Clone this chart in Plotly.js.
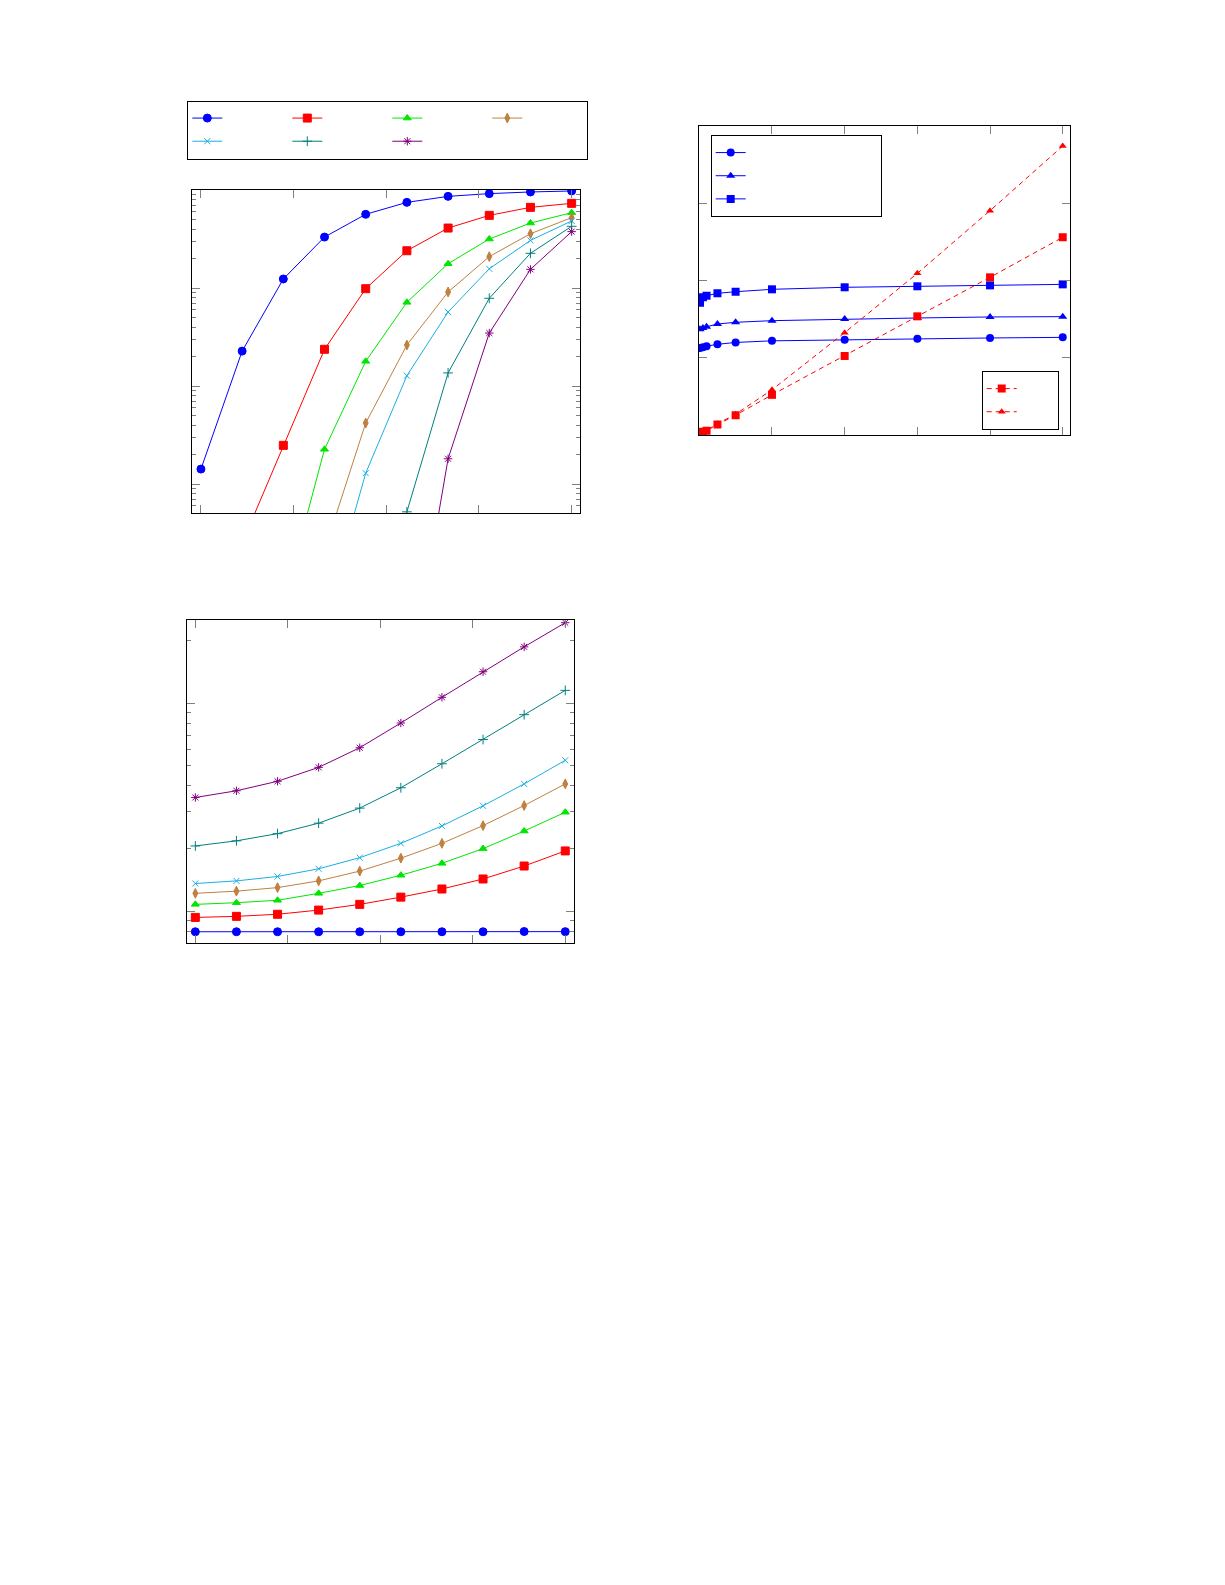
<!DOCTYPE html>
<html>
<head>
<meta charset="utf-8">
<script src="https://cdn.plot.ly/plotly-3.0.1.min.js"></script>
<style>
  html, body { margin: 0; padding: 0; background: #fff; }
  #fig { width: 1225px; height: 1585px; }
</style>
</head>
<body>
<div id="fig"></div>
<script>
// ---- data ----
// top-left and bottom-left panels share the same 10 steps
const steps = [1, 2, 3, 4, 5, 6, 7, 8, 9, 10];

// top-left (log y)
const probBlue   = [0.00142, 0.0227, 0.1236, 0.331, 0.565, 0.748, 0.861, 0.918, 0.955, 0.977];
const probRed    = [null, 0.00025, 0.00248, 0.0237, 0.0984, 0.240, 0.409, 0.551, 0.665, 0.731];
const probGreen  = [null, null, 0.00006, 0.00226, 0.01786, 0.0714, 0.177, 0.316, 0.460, 0.587];
const probBrown  = [null, null, null, 0.00021, 0.00419, 0.0262, 0.0910, 0.209, 0.358, 0.522];
const probCyan   = [null, null, null, 0.000042, 0.00129, 0.01274, 0.0569, 0.157, 0.306, 0.483];
const probTeal   = [null, null, null, null, 0.0000015, 0.00052, 0.0136, 0.0785, 0.226, 0.426];
const probViolet = [null, null, null, null, null, 0.0000064, 0.00181, 0.0347, 0.155, 0.376];

// bottom-left (log y)
const costBlue   = [0.798, 0.798, 0.798, 0.798, 0.798, 0.798, 0.798, 0.798, 0.800, 0.799];
const costRed    = [0.935, 0.946, 0.968, 1.014, 1.08, 1.17, 1.28, 1.43, 1.65, 1.95];
const costGreen  = [1.08, 1.10, 1.13, 1.22, 1.33, 1.49, 1.70, 2.00, 2.43, 2.99];
const costBrown  = [1.22, 1.25, 1.30, 1.40, 1.56, 1.80, 2.12, 2.58, 3.22, 4.09];
const costCyan   = [1.36, 1.40, 1.47, 1.60, 1.81, 2.12, 2.57, 3.21, 4.09, 5.31];
const costTeal   = [2.06, 2.18, 2.36, 2.65, 3.13, 3.92, 5.11, 6.68, 8.79, 11.5];
const costViolet = [3.52, 3.79, 4.21, 4.91, 6.10, 8.02, 10.65, 14.13, 18.6, 24.3];

// top-right (linear)
const loads      = [0.01, 0.05, 0.1, 0.25, 0.5, 1, 2, 3, 4, 5];
const flatCircle = [1.125, 1.135, 1.15, 1.174, 1.198, 1.219, 1.234, 1.247, 1.256, 1.264];
const flatTri    = [1.37, 1.385, 1.40, 1.437, 1.459, 1.480, 1.502, 1.515, 1.528, 1.532];
const flatSquare = [1.713, 1.783, 1.803, 1.834, 1.855, 1.886, 1.912, 1.925, 1.937, 1.950];
const riseSquare = [0.03, 0.042, 0.055, 0.135, 0.257, 0.52, 1.023, 1.536, 2.041, 2.559];
const riseTri    = [0.03, 0.045, 0.06, 0.145, 0.27, 0.585, 1.325, 2.093, 2.904, 3.741];

// ---- styles ----
const W = 1225, H = 1585;
const colBlue = '#0000ff', colRed = '#ff0000', colGreen = '#00e600', colBrown = '#bf8040';
const colCyan = '#1baee4', colTeal = '#008080', colViolet = '#800080';

const series = [
  { y1: probBlue,   y3: costBlue,   color: colBlue,   symbol: 'circle',          size: 8, group: 'a' },
  { y1: probRed,    y3: costRed,    color: colRed,    symbol: 'square',          size: 8, group: 'b' },
  { y1: probGreen,  y3: costGreen,  color: colGreen,  symbol: 'triangle-up',     size: 7, group: 'c' },
  { y1: probBrown,  y3: costBrown,  color: colBrown,  symbol: 'diamond-tall',    size: 7, group: 'd' },
  { y1: probCyan,   y3: costCyan,   color: colCyan,   symbol: 'x-thin-open',     size: 6, group: 'a' },
  { y1: probTeal,   y3: costTeal,   color: colTeal,   symbol: 'cross-thin-open', size: 7, group: 'b' },
  { y1: probViolet, y3: costViolet, color: colViolet, symbol: 'asterisk-open',   size: 7, group: 'c' }
];

const traces = [];
series.forEach(s => {
  const marker = { symbol: s.symbol, size: s.size, color: s.color, line: { color: s.color, width: 1 } };
  traces.push({
    x: steps, y: s.y1, xaxis: 'x', yaxis: 'y', type: 'scatter', mode: 'lines+markers',
    name: '', legend: 'legend', legendgroup: s.group,
    line: { color: s.color, width: 1 }, marker: marker, connectgaps: false
  });
  traces.push({
    x: steps, y: s.y3, xaxis: 'x3', yaxis: 'y3', type: 'scatter', mode: 'lines+markers',
    name: '', showlegend: false,
    line: { color: s.color, width: 1 }, marker: marker
  });
});

const flat = [
  { y: flatCircle, symbol: 'circle', size: 8 },
  { y: flatTri, symbol: 'triangle-up', size: 8 },
  { y: flatSquare, symbol: 'square', size: 8 }
];
flat.forEach(f => {
  traces.push({
    x: loads, y: f.y, xaxis: 'x2', yaxis: 'y2', type: 'scatter', mode: 'lines+markers',
    name: '', legend: 'legend2', legendgroup: 'flat',
    line: { color: colBlue, width: 1 },
    marker: { symbol: f.symbol, size: f.size, color: colBlue }
  });
});
const rise = [
  { y: riseSquare, symbol: 'square', size: 8 },
  { y: riseTri, symbol: 'triangle-up', size: 7 }
];
rise.forEach(r => {
  traces.push({
    x: loads, y: r.y, xaxis: 'x2', yaxis: 'y2', type: 'scatter', mode: 'lines+markers',
    name: '', legend: 'legend3', legendgroup: 'rise',
    line: { color: colRed, width: 1, dash: '5px,4px' },
    marker: { symbol: r.symbol, size: r.size, color: colRed }
  });
});

// pixel box -> paper domain
const dx = (a, b) => [a / W, b / W];
const dy = (top, bottom) => [1 - bottom / H, 1 - top / H];

const frame = {
  showline: true, linecolor: '#000', linewidth: 1, mirror: 'ticks',
  ticks: 'inside', ticklen: 8, tickwidth: 1, tickcolor: '#808080',
  showgrid: false, zeroline: false, showticklabels: false
};
const minorLog = { ticks: 'inside', ticklen: 4, tickwidth: 1, tickcolor: '#808080', dtick: 'D1', showgrid: false };

const layout = {
  width: W, height: H,
  margin: { l: 0, r: 0, t: 0, b: 0 },
  paper_bgcolor: '#fff', plot_bgcolor: '#fff',
  showlegend: true,
  xaxis: Object.assign({}, frame, { domain: dx(192.3, 580.3), anchor: 'y',
    range: [0.79, 10.21], tickmode: 'linear', tick0: 1, dtick: 2.25 }),
  yaxis: Object.assign({}, frame, { domain: dy(190, 513.3), anchor: 'x',
    type: 'log', range: [-3.299, 0], dtick: 1, minor: minorLog }),
  xaxis2: Object.assign({}, frame, { domain: dx(698.7, 1070), anchor: 'y2',
    range: [-0.008, 5.1], tickmode: 'linear', tick0: 0, dtick: 1 }),
  yaxis2: Object.assign({}, frame, { domain: dy(126, 435), anchor: 'x2',
    range: [0, 4], tickmode: 'linear', tick0: 0, dtick: 1 }),
  xaxis3: Object.assign({}, frame, { domain: dx(186.7, 574.3), anchor: 'y3',
    range: [0.79, 10.22], tickmode: 'linear', tick0: 1, dtick: 2.25 }),
  yaxis3: Object.assign({}, frame, { domain: dy(620, 943), anchor: 'x3',
    type: 'log', range: [-0.152, 1.3985], dtick: 1, minor: minorLog }),
  legend: {
    x: 187.3 / W, y: 1 - 100.5 / H, xanchor: 'left', yanchor: 'top',
    orientation: 'h', traceorder: 'grouped', tracegroupgap: 0,
    entrywidth: 55, font: { family: 'DejaVu Sans', size: 15.5 },
    bgcolor: '#fff', bordercolor: '#000', borderwidth: 1
  },
  legend2: {
    x: 710.7 / W, y: 1 - 135 / H, xanchor: 'left', yanchor: 'top',
    orientation: 'h', traceorder: 'grouped', tracegroupgap: 0,
    entrywidth: 125, font: { family: 'DejaVu Sans', size: 15.5 },
    bgcolor: '#fff', bordercolor: '#000', borderwidth: 1
  },
  legend3: {
    x: 981.7 / W, y: 1 - 371 / H, xanchor: 'left', yanchor: 'top',
    orientation: 'h', traceorder: 'grouped', tracegroupgap: 0,
    entrywidth: 31, font: { family: 'DejaVu Sans', size: 15.5 },
    bgcolor: '#fff', bordercolor: '#000', borderwidth: 1
  }
};

Plotly.newPlot('fig', traces, layout, { displayModeBar: false, staticPlot: true });
</script>
</body>
</html>
